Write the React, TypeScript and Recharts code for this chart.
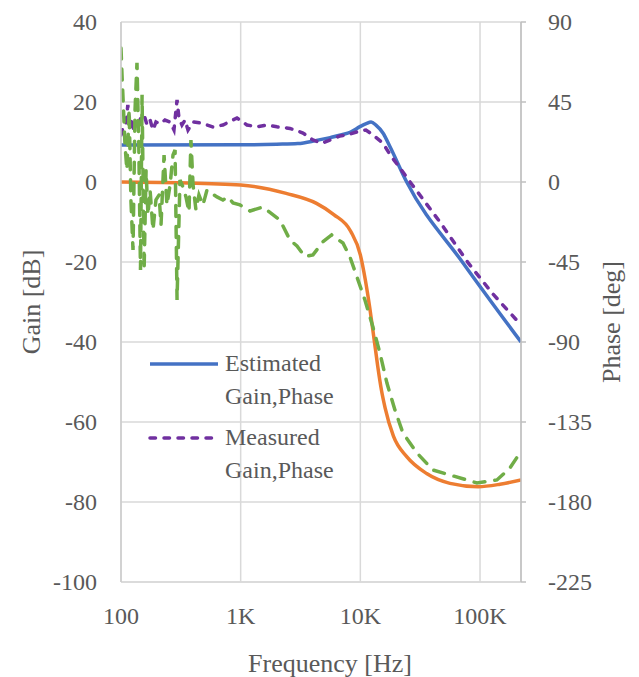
import React from 'react';
import { LineChart, Line, XAxis, YAxis, CartesianGrid, Legend } from 'recharts';

const FONT = '"Liberation Serif", "Times New Roman", serif';
const TEXT = '#595959';

const freqTicks = [100, 1000, 10000, 100000];
const freqTickLabels = ['100', '1K', '10K', '100K'];
const gainTicks = [-100, -80, -60, -40, -20, 0, 20, 40];
const phaseTicks = [-225, -180, -135, -90, -45, 0, 45, 90];

// Estimated gain [dB]
const estGainFreq = [100, 1000, 2000, 3000, 4300, 5600, 7000, 8300, 10000, 11200, 12300, 13500, 15500, 17700, 24400, 72400, 220000];
const estGainDb = [9.25, 9.3, 9.45, 9.6, 10.4, 11.1, 11.8, 12.5, 13.9, 14.6, 15.0, 14.2, 12.2, 8.8, 0, -20.3, -40];

// Estimated phase [deg]
const estPhaseFreq = [100, 300, 1000, 2400, 4300, 6000, 8300, 10000, 11000, 12000, 13000, 14000, 15000, 16100, 18900, 24400, 35800, 56100, 96600, 147000, 220000];
const estPhaseDeg = [0, -0.4, -1.7, -6.4, -12, -18.3, -27.7, -41, -55, -71, -88, -104, -117, -127, -143, -154.5, -164, -169.5, -171.4, -170, -167.6];

// Measured gain [dB]
const measGainFreq = [100, 104, 110, 114, 119, 124, 128, 133, 139, 147, 156, 165, 175, 185, 196, 212, 233, 257, 277, 294, 305, 323, 343, 363, 400, 466, 587, 711, 931, 1129, 1368, 1659, 2010, 2582, 3315, 4018, 4777, 5572, 6752, 7729, 9546, 11137, 12743, 15447, 18014, 21419, 26500, 46238, 80000, 128170, 220000];
const measGainDb = [11.75, 13.75, 14.25, 19.25, 13.5, 16, 12.5, 15, 13.75, 16.25, 16.75, 14.25, 15.5, 13, 15, 14.5, 15.5, 15, 13, 20.5, 16, 14.25, 15.5, 13, 15, 14.75, 13.75, 14.25, 16, 14.25, 13.8, 14.25, 13.8, 13.4, 12.25, 10.5, 9.7, 10.5, 11.5, 11.75, 12.6, 13, 11.75, 9.7, 6.5, 3.5, -0.3, -10, -20.3, -28, -35.75];

// Measured phase [deg]
const measPhaseFreq = [100, 102, 105, 108, 112, 117, 121, 126, 131, 136, 141, 145.5, 150, 156, 162, 168, 175, 185, 196, 208, 216, 229, 242, 257, 272, 283, 294, 311, 330, 349, 370, 384, 400, 423, 448, 484, 523, 565, 634, 711, 783, 863, 987, 1196, 1536, 2130, 2582, 2953, 3444, 4018, 4870, 5757, 7154, 8188, 9367, 10925, 12743, 14580, 16681, 19454, 22692, 29714, 40420, 56033, 94216, 138450, 177770, 215440];
const measPhaseDeg = [75.4, 60, 40.5, 20.8, 6.75, 40.5, -10, -38.2, 40.5, 67, 18, -49.5, 49, -49.5, 6.75, -18.6, -4.5, -27, -10, -7.3, -24.2, 15.2, -13, -1.7, 15.2, 18, -66.4, 1.1, -2.8, -8.4, -16.9, 23.6, -1.7, -15.7, -7.3, -13, -4.5, -6.2, -8.4, -10.1, -8.4, -11.8, -12.9, -16.3, -14.1, -21.4, -32.6, -36, -42, -41, -33.6, -29.8, -34.3, -42.2, -53.4, -66.4, -81.6, -96.2, -113.1, -128.2, -141.2, -152.4, -162, -164.8, -169.3, -167.6, -160.9, -152.4];

const zip = (fs: number[], vs: number[]) => fs.map((f, i) => ({ f, v: vs[i] }));
const estGainData = zip(estGainFreq, estGainDb);
const estPhaseData = zip(estPhaseFreq, estPhaseDeg);
const measGainData = zip(measGainFreq, measGainDb);
const measPhaseData = zip(measPhaseFreq, measPhaseDeg);

const BLUE = '#4472C4';
const ORANGE = '#ED7D31';
const PURPLE = '#7030A0';
const GREEN = '#70AD47';

const XTick = (p: any) => {
  const i = freqTicks.indexOf(p.payload.value);
  return (
    <text x={p.x} y={p.y + 42} textAnchor="middle" fill={TEXT} fontFamily={FONT} fontSize={24}>
      {i >= 0 ? freqTickLabels[i] : String(p.payload.value)}
    </text>
  );
};
const LeftTick = (p: any) => (
  <text x={p.x - 24} y={p.y + 8} textAnchor="end" fill={TEXT} fontFamily={FONT} fontSize={24}>
    {p.payload.value}
  </text>
);
const RightTick = (p: any) => (
  <text x={p.x + 22} y={p.y + 8} textAnchor="start" fill={TEXT} fontFamily={FONT} fontSize={24}>
    {p.payload.value}
  </text>
);

const XLabel = (p: any) => {
  const vb = p.viewBox;
  return (
    <text x={vb.x + vb.width / 2 + 9} y={vb.y + 90} textAnchor="middle" fill={TEXT} fontFamily={FONT} fontSize={26}>
      Frequency [Hz]
    </text>
  );
};
const LeftLabel = (p: any) => {
  const vb = p.viewBox;
  const cx = vb.x + 23;
  const cy = vb.y + vb.height / 2;
  return (
    <text x={cx} y={cy} transform={`rotate(-90 ${cx} ${cy})`} dy={9} textAnchor="middle" fill={TEXT} fontFamily={FONT} fontSize={26}>
      Gain [dB]
    </text>
  );
};
const RightLabel = (p: any) => {
  const vb = p.viewBox;
  const cx = vb.x + 90;
  const cy = vb.y + vb.height / 2 + 20;
  return (
    <text x={cx} y={cy} transform={`rotate(-90 ${cx} ${cy})`} dy={9} textAnchor="middle" fill={TEXT} fontFamily={FONT} fontSize={26}>
      Phase [deg]
    </text>
  );
};

const legendItems = [
  { name1: 'Estimated', name2: 'Gain,Phase', color: BLUE, dash: undefined as string | undefined },
  { name1: 'Measured', name2: 'Gain,Phase', color: PURPLE, dash: '5.5 8.5' },
];

const LegendContent = () => (
  <div style={{ fontFamily: FONT, fontSize: 24, color: TEXT, lineHeight: '33px' }}>
    {legendItems.map((it, idx) => (
      <div key={idx} style={{ display: 'flex', alignItems: 'flex-start', marginTop: idx ? 8 : 0 }}>
        <svg width={77} height={33} style={{ flex: 'none' }}>
          <line x1={2} x2={70} y1={17} y2={17} stroke={it.color} strokeWidth={3.5} strokeDasharray={it.dash} strokeLinecap={it.dash ? 'round' : 'butt'} />
        </svg>
        <div style={{ whiteSpace: 'nowrap' }}>
          {it.name1}
          <br />
          {it.name2}
        </div>
      </div>
    ))}
  </div>
);

export default function App() {
  return (
    <LineChart width={623} height={669} margin={{ top: 14, right: 0, bottom: 0, left: 0 }}>
      <CartesianGrid yAxisId="left" stroke="#d9d9d9" strokeWidth={1.5} />
      <XAxis
        dataKey="f"
        type="number"
        scale="log"
        domain={[100, 220000]}
        allowDataOverflow
        ticks={freqTicks}
        height={95}
        tickLine={false}
        tickSize={0}
        tickMargin={0}
        axisLine={{ stroke: '#d9d9d9', strokeWidth: 1.5 }}
        tick={<XTick />}
        label={XLabel}
      />
      <YAxis
        yAxisId="left"
        orientation="left"
        width={113}
        domain={[-100, 40]}
        ticks={gainTicks}
        allowDataOverflow
        tickLine={false}
        tickSize={0}
        tickMargin={0}
        axisLine={{ stroke: '#cccccc', strokeWidth: 1.5 }}
        tick={<LeftTick />}
        label={LeftLabel}
      />
      <YAxis
        yAxisId="right"
        orientation="right"
        width={110}
        domain={[-225, 90]}
        ticks={phaseTicks}
        allowDataOverflow
        tickSize={5}
        tickMargin={0}
        tickLine={{ stroke: '#bfbfbf', strokeWidth: 1.5 }}
        axisLine={{ stroke: '#bfbfbf', strokeWidth: 1.5 }}
        tick={<RightTick />}
        label={RightLabel}
      />
      <Legend
        verticalAlign="middle"
        align="center"
        layout="horizontal"
        content={LegendContent}
        wrapperStyle={{ left: 140, top: 339, width: 240, height: 150 }}
      />
      <Line data={estGainData} dataKey="v" yAxisId="left" type="monotone" stroke={BLUE} strokeWidth={3.5} dot={false} isAnimationActive={false} />
      <Line data={estPhaseData} dataKey="v" yAxisId="right" type="monotone" stroke={ORANGE} strokeWidth={3.5} dot={false} isAnimationActive={false} />
      <Line data={measGainData} dataKey="v" yAxisId="left" type="linear" stroke={PURPLE} strokeWidth={3.5} strokeDasharray="5.5 8.5" strokeLinecap="round" dot={false} isAnimationActive={false} />
      <Line data={measPhaseData} dataKey="v" yAxisId="right" type="linear" stroke={GREEN} strokeWidth={3.5} strokeDasharray="11 10" strokeLinecap="round" dot={false} isAnimationActive={false} />
    </LineChart>
  );
}
